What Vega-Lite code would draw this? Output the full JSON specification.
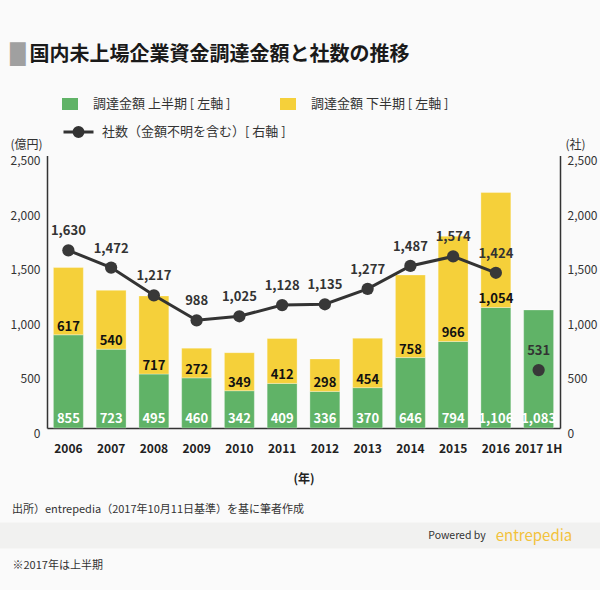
{
  "$schema": "https://vega.github.io/schema/vega-lite/v6.json",
  "background": "#fafafa",
  "padding": {"left": 0, "top": 44.5, "right": 0, "bottom": 20},
  "bounds": "flush",
  "spacing": 94,
  "title": {
    "text": "█",
    "subtitle": "\u2800\u00a0国内未上場企業資金調達金額と社数の推移",
    "anchor": "start",
    "frame": "group",
    "dx": 10,
    "offset": 31.5,
    "font": "DejaVu Sans",
    "fontSize": 20,
    "fontWeight": "normal",
    "color": "#a0a0a0",
    "subtitleFont": "Noto Sans CJK JP",
    "subtitleFontSize": 20,
    "subtitleFontWeight": "bold",
    "subtitleColor": "#1a1a1a",
    "subtitlePadding": -20
  },
  "config": {
    "view": {"stroke": null},
    "font": "Noto Sans CJK JP"
  },
  "datasets": {
    "byYear": [
      {"year": "2006", "first": 855, "second": 617, "count": 1630},
      {"year": "2007", "first": 723, "second": 540, "count": 1472},
      {"year": "2008", "first": 495, "second": 717, "count": 1217},
      {"year": "2009", "first": 460, "second": 272, "count": 988},
      {"year": "2010", "first": 342, "second": 349, "count": 1025},
      {"year": "2011", "first": 409, "second": 412, "count": 1128},
      {"year": "2012", "first": 336, "second": 298, "count": 1135},
      {"year": "2013", "first": 370, "second": 454, "count": 1277},
      {"year": "2014", "first": 646, "second": 758, "count": 1487},
      {"year": "2015", "first": 794, "second": 966, "count": 1574},
      {"year": "2016", "first": 1106, "second": 1054, "count": 1424},
      {"year": "2017 1H", "first": 1083, "second": null, "count": 531}
    ]
  },
  "vconcat": [
    {
      "width": 600,
      "height": 272.5,
      "data": {"name": "byYear"},
      "layer": [
        {
          "layer": [
            {
              "transform": [
                {"fold": ["first", "second"], "as": ["half", "amount"]},
                {"filter": "datum.amount != null"}
              ],
              "mark": {"type": "bar", "stroke": "#ffffff", "strokeOpacity": 0.3, "strokeWidth": 1},
              "encoding": {
                "x": {
                  "field": "year", "type": "nominal", "sort": null,
                  "scale": {
                    "type": "band",
                    "domain": ["2006", "2007", "2008", "2009", "2010", "2011", "2012", "2013", "2014", "2015", "2016", "2017 1H"],
                    "range": [47, 560],
                    "paddingInner": 0.3,
                    "paddingOuter": 0.15
                  },
                  "axis": {
                    "orient": "bottom",
                    "title": "(年)",
                    "labelAngle": 0,
                    "labelFontWeight": "bold",
                    "labelFontSize": 12,
                    "labelColor": "#222222",
                    "labelPadding": 15,
                    "ticks": false,
                    "domainColor": "#333333",
                    "domainWidth": 1.5,
                    "titleFontSize": 12,
                    "titleFontWeight": "bold",
                    "titleColor": "#222222",
                    "titlePadding": 19
                  }
                },
                "y": {
                  "field": "amount", "type": "quantitative", "stack": "zero",
                  "scale": {"domain": [0, 2500], "nice": false},
                  "axis": {
                    "orient": "left",
                    "offset": -47,
                    "values": [0, 500, 1000, 1500, 2000, 2500],
                    "labelExpr": "format(datum.value, ',')",
                    "ticks": false,
                    "grid": false,
                    "domainColor": "#333333",
                    "domainWidth": 1.5,
                    "labelFontSize": 12,
                    "labelColor": "#333333",
                    "labelPadding": 7,
                    "labelBaseline": "top",
                    "title": "(億円)",
                    "titleAngle": 0,
                    "titleAlign": "right",
                    "titleBaseline": "middle",
                    "titleX": -5,
                    "titleY": -11,
                    "titleFontSize": 12,
                    "titleFontWeight": "normal",
                    "titleColor": "#333333"
                  }
                },
                "color": {
                  "field": "half", "type": "nominal",
                  "scale": {"domain": ["first", "second"], "range": ["#60b367", "#f5d03a"]},
                  "legend": {
                    "orient": "none",
                    "legendX": 62,
                    "legendY": -59.5,
                    "direction": "horizontal",
                    "title": null,
                    "padding": 0,
                    "symbolType": "M-1,-0.75H1V0.75H-1Z",
                    "symbolSize": 256,
                    "symbolStrokeWidth": 0,
                    "labelFontSize": 13,
                    "labelColor": "#333333",
                    "labelOffset": 15,
                    "labelLimit": 300,
                    "columnPadding": 49,
                    "labelExpr": "datum.value == 'first' ? '調達金額 上半期 [ 左軸 ]' : '調達金額 下半期 [ 左軸 ]'"
                  }
                },
                "order": {"field": "half", "sort": "ascending"}
              }
            },
            {
              "mark": {"type": "text", "color": "#ffffff", "fontWeight": "bold", "fontSize": 13, "baseline": "alphabetic", "dy": -5},
              "encoding": {
                "x": {"field": "year", "type": "nominal", "sort": null},
                "y": {"datum": 0, "type": "quantitative"},
                "text": {"field": "first", "type": "quantitative", "format": ","}
              }
            },
            {
              "transform": [{"filter": "datum.second != null"}],
              "mark": {"type": "text", "color": "#111111", "fontWeight": "bold", "fontSize": 13, "baseline": "alphabetic", "dy": -4},
              "encoding": {
                "x": {"field": "year", "type": "nominal", "sort": null},
                "y": {"field": "first", "type": "quantitative"},
                "text": {"field": "second", "type": "quantitative", "format": ","}
              }
            }
          ]
        },
        {
          "layer": [
            {
              "transform": [{"filter": "datum.year != '2017 1H'"}],
              "mark": {"type": "line", "strokeWidth": 3},
              "encoding": {
                "x": {"field": "year", "type": "nominal", "sort": null},
                "y": {
                  "field": "count", "type": "quantitative",
                  "scale": {"domain": [0, 2500], "nice": false},
                  "axis": {
                    "orient": "right",
                    "offset": -40,
                    "values": [0, 500, 1000, 1500, 2000, 2500],
                    "labelExpr": "format(datum.value, ',')",
                    "ticks": false,
                    "grid": false,
                    "domainColor": "#333333",
                    "domainWidth": 1.5,
                    "labelFontSize": 12,
                    "labelColor": "#333333",
                    "labelPadding": 7,
                    "labelBaseline": "top",
                    "title": "(社)",
                    "titleAngle": 0,
                    "titleAlign": "left",
                    "titleBaseline": "middle",
                    "titleX": 5,
                    "titleY": -11,
                    "titleFontSize": 12,
                    "titleFontWeight": "normal",
                    "titleColor": "#333333"
                  }
                },
                "stroke": {
                  "datum": "社数（金額不明を含む）[ 右軸 ]", "type": "nominal",
                  "scale": {"range": ["#333333"]},
                  "legend": {
                    "orient": "none",
                    "legendX": 67,
                    "legendY": -35,
                    "title": null,
                    "padding": 0,
                    "symbolType": "M-1.5,0H1.5M0.45,0A0.45,0.45,0,1,1,-0.45,0A0.45,0.45,0,1,1,0.45,0Z",
                    "symbolSize": 400,
                    "symbolStrokeWidth": 3,
                    "symbolFillColor": "#333333",
                    "labelFontSize": 13,
                    "labelColor": "#333333",
                    "labelOffset": 12,
                    "labelLimit": 300
                  }
                }
              }
            },
            {
              "mark": {"type": "point", "filled": true, "size": 150, "color": "#383838", "opacity": 1},
              "encoding": {
                "x": {"field": "year", "type": "nominal", "sort": null},
                "y": {"field": "count", "type": "quantitative"}
              }
            },
            {
              "mark": {"type": "text", "color": "#333333", "fontWeight": "bold", "fontSize": 13, "baseline": "middle", "dy": -19},
              "encoding": {
                "x": {"field": "year", "type": "nominal", "sort": null},
                "y": {"field": "count", "type": "quantitative"},
                "text": {"field": "count", "type": "quantitative", "format": ","}
              }
            }
          ]
        }
      ],
      "resolve": {"scale": {"y": "independent"}}
    },
    {
      "width": 600,
      "height": 26,
      "view": {"fill": "#f1f1f0", "stroke": null},
      "title": {
        "text": "出所）entrepedia（2017年10月11日基準）を基に筆者作成",
        "anchor": "start",
        "frame": "group",
        "dx": 12,
        "offset": 8,
        "fontSize": 11,
        "fontWeight": "normal",
        "color": "#333333",
        "font": "Noto Sans CJK JP"
      },
      "data": {"values": [{"label": "Powered by"}, {"label": "entrepedia"}]},
      "mark": {"type": "text", "baseline": "middle"},
      "encoding": {
        "x": {
          "field": "label", "type": "nominal",
          "scale": {"type": "point", "domain": ["Powered by", "entrepedia"], "range": [457, 534], "padding": 0},
          "axis": {
            "labels": false,
            "ticks": false,
            "domain": false,
            "title": "※2017年は上半期",
            "titleX": 12,
            "titleY": 17,
            "titleAlign": "left",
            "titleBaseline": "middle",
            "titleFontSize": 11,
            "titleFontWeight": "normal",
            "titleColor": "#333333"
          }
        },
        "text": {"field": "label"},
        "color": {"condition": {"test": "datum.label == 'entrepedia'", "value": "#f3c23a"}, "value": "#333333"},
        "size": {"condition": {"test": "datum.label == 'entrepedia'", "value": 15}, "value": 10.5}
      }
    }
  ]
}
